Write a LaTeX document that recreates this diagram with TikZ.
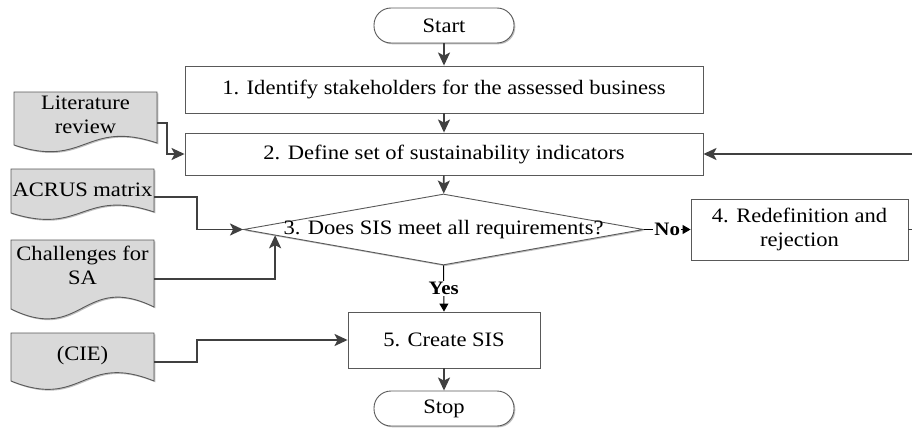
\documentclass[tikz,border=0pt]{standalone}
\usepackage{fontspec}
\setmainfont[FakeStretch=1.1]{Liberation Serif}
\usetikzlibrary{arrows.meta,shapes.geometric,shadows,calc}
\definecolor{edgegray}{HTML}{595959}
\definecolor{conngray}{HTML}{404040}
\definecolor{docfill}{HTML}{D9D9D9}
\tikzset{
  shade/.style={drop shadow={shadow xshift=1.3pt, shadow yshift=-1.3pt, fill=black, opacity=0.25}},
  base/.style={draw=edgegray, line width=0.9pt, fill=white, shade,
    font=\fontsize{20.5}{24}\selectfont, align=center, inner sep=0pt},
  procbox/.style={base, rectangle},
  pill/.style={base, rectangle, rounded corners=17pt, minimum width=140pt, minimum height=35pt},
  decision/.style={base, diamond, minimum width=400pt, minimum height=71pt},
  plaintext/.style={font=\fontsize{20.5}{24}\selectfont, align=center, inner sep=0pt},
  doctext/.style={plaintext, minimum width=143pt},
  docshape/.style={draw=edgegray, line width=0.9pt, fill=docfill, shade},
  arr/.style={draw=conngray, line width=1.7pt, -{Stealth[length=13pt,width=12pt,inset=3pt]}},
  branch/.style={draw=black, line width=1pt, -{Triangle[length=8pt,width=9pt]}},
  lab/.style={font=\bfseries\fontsize{19}{20}\selectfont, fill=white, inner sep=1pt},
}
\begin{document}
\begin{tikzpicture}[x=1pt,y=-1pt]
\useasboundingbox (0,0) rectangle (912,428);
\clip (0,0) rectangle (912,428);
\fill[white] (0,0) rectangle (912,428);

% document shapes
\path[docshape] (14,92) -- (157,92) -- (157,143) .. controls (85.5,119) and (85.5,169) .. (14,145) -- cycle;
\path[docshape] (11,169) -- (154,169) -- (154,212) .. controls (82.5,188) and (82.5,236) .. (11,213) -- cycle;
\path[docshape] (11,240) -- (154,240) -- (154,307) .. controls (82.5,272) and (82.5,344) .. (11,309) -- cycle;
\path[docshape] (11,333) -- (154,333) -- (154,381) .. controls (82.5,352) and (82.5,410) .. (11,381) -- cycle;

% nodes
\node[pill] (start) at (444,25.5) {Start};
\node[procbox, minimum width=518pt, minimum height=47pt] (box1) at (444,89.5) {1. Identify stakeholders for the assessed business};
\node[procbox, minimum width=518pt, minimum height=42pt] (box2) at (444,154) {2. Define set of sustainability indicators};
\node[decision] (dia) at (443.5,229.5) {};
\node[plaintext] (diatext) at (dia.center) {3. Does SIS meet all requirements?};
\node[procbox, minimum width=217pt, minimum height=61pt] (box4) at (799.5,229.5) {4. Redefinition and\\rejection};
\node[procbox, minimum width=192pt, minimum height=56pt] (box5) at (444,340) {5. Create SIS};
\node[pill] (stop) at (444,408.5) {Stop};

\node[doctext] (lit) at (85.5,114.5) {Literature\\review};
\node[doctext] (acrus) at (82.5,190) {ACRUS matrix};
\node[doctext] (chal) at (82.5,265) {Challenges for\\SA};
\node[doctext] (cie) at (82.5,356) {(CIE)};
\coordinate (chalin) at ($(dia.west)!0.16!(dia.south)$);

% connectors
\draw[arr] (start) -- (box1);
\draw[arr] (box1) -- (box2);
\draw[arr] (box2) -- (dia);
\draw[arr] (box5) -- (stop);
\draw[arr] ([yshift=-8.5pt]lit.east) -- ++(10,0) |- (box2.west);
\draw[arr] ([yshift=-7pt]acrus.east) -- ++(43,0) |- (dia.west);
\draw[arr] ([yshift=-14pt]chal.east) -| (chalin);
\draw[arr] ([yshift=-6pt]cie.east) -- ++(43,0) |- (box5.west);
\draw[branch] (dia.east) -- node[lab] {No} (box4.west);
\draw[branch] (dia.south) -- node[lab] {Yes} (box5.north);
\draw[arr] (box4.east) -- ++(30,0) |- (box2.east);
\end{tikzpicture}
\end{document}
